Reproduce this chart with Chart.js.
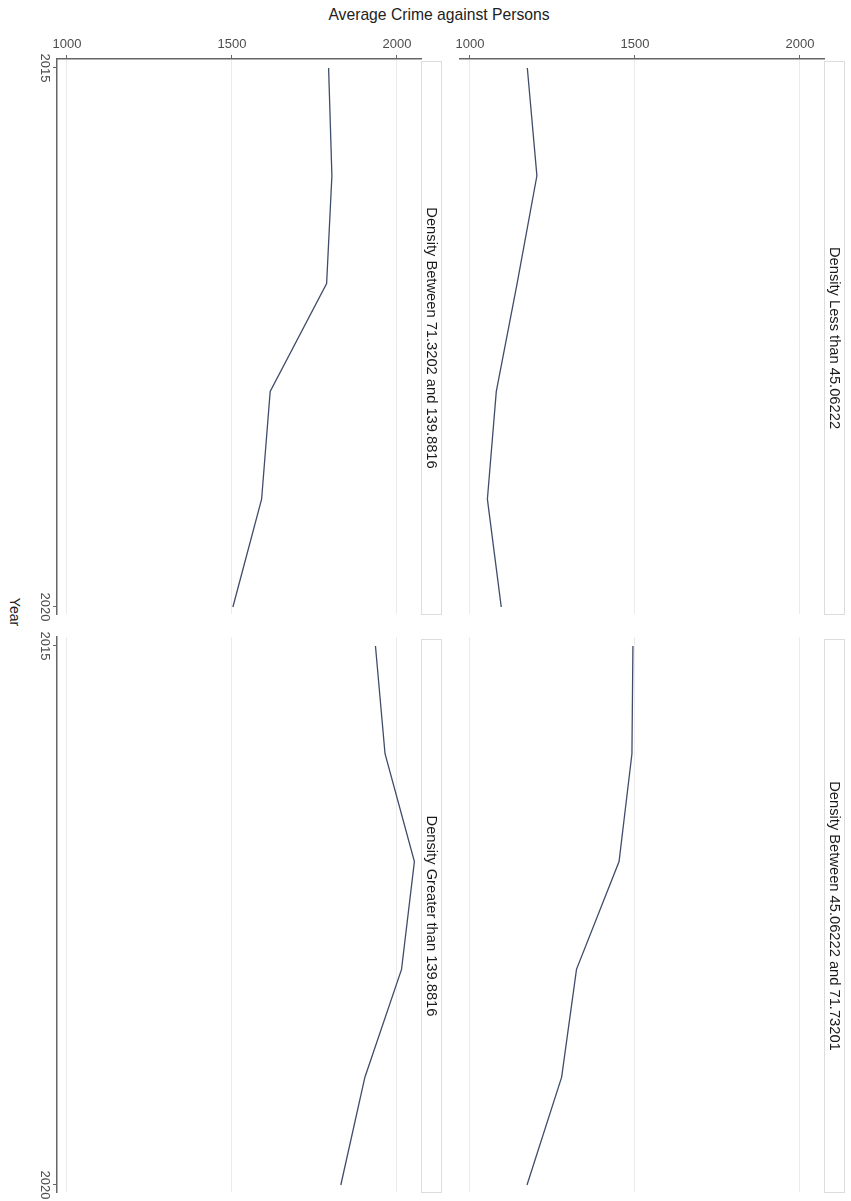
<!DOCTYPE html>
<html><head><meta charset="utf-8">
<script src="https://cdn.jsdelivr.net/npm/chart.js@4.4.1/dist/chart.umd.min.js"></script>
<style>
html,body{margin:0;padding:0;background:#fff;}
#wrap{position:relative;width:851px;height:1201px;overflow:hidden;background:#fff;}
#wrap canvas{position:absolute;left:0;top:0;}
#title{position:absolute;left:439px;top:15px;transform:translate(-50%,-50%);white-space:nowrap;font:15.7px "Liberation Sans",Arial,sans-serif;color:#222;}
#ylab{position:absolute;left:15px;top:612px;transform:translate(-50%,-50%) rotate(90deg);white-space:nowrap;font:14px "Liberation Sans",Arial,sans-serif;color:#222;}
</style></head><body>
<div id="wrap">
<div id="title">Average Crime against Persons</div>
<div id="ylab">Year</div>
<canvas id="c0" width="851" height="1201"></canvas>
<canvas id="c1" width="851" height="1201"></canvas>
<canvas id="c2" width="851" height="1201"></canvas>
<canvas id="c3" width="851" height="1201"></canvas>
</div>
<script>
// ---- data ----
const years = [2015, 2016, 2017, 2018, 2019, 2020];
const yearTicks = [2015, 2020];
const valueTicks = [1000, 1500, 2000];
const panelLabels = [
  "Density Between 71.3202 and 139.8816",
  "Density Less than 45.06222",
  "Density Greater than 139.8816",
  "Density Between 45.06222 and 71.73201"
];
const crimeBetween71and139 = [1793, 1803, 1787, 1616, 1590, 1503];
const crimeLessThan45      = [1174, 1203, 1143, 1080, 1053, 1095];
const crimeGreaterThan139  = [1935, 1964, 2053, 2014, 1903, 1830];
const crimeBetween45and71  = [1494, 1491, 1452, 1323, 1278, 1173];

// ---- layout / style ----
const FONT = '"Liberation Sans", Arial, sans-serif';
const axisColor = '#666666';
const gridColor = '#ebebeb';
const textColor = '#4d4d4d';
const lineColor = '#3f4d6b';
const valueMin = 970, valueMax = 2073;
const yearMin = 2014.917, yearMax = 2020.065;

const panels = [
  {id:'c0', series: crimeBetween71and139, label: panelLabels[0], left:true,  top:true,
   pad:{left:0, top:0, right:430, bottom:587}},
  {id:'c1', series: crimeLessThan45,      label: panelLabels[1], left:false, top:true,
   pad:{left:460, top:0, right:27, bottom:587}},
  {id:'c2', series: crimeGreaterThan139,  label: panelLabels[2], left:true,  top:false,
   pad:{left:0, top:637, right:430, bottom:9}},
  {id:'c3', series: crimeBetween45and71,  label: panelLabels[3], left:false, top:false,
   pad:{left:460, top:637, right:27, bottom:9}}
];

const facetPlugin = {
  id: 'facet',
  afterDraw(chart, args, opts) {
    const ctx = chart.ctx, a = chart.chartArea;
    ctx.save();
    // strip
    const sx = a.right + 0.5, sw = 20, sy = a.top + 2.5, sh = a.bottom - a.top - 2;
    ctx.fillStyle = '#ffffff';
    ctx.fillRect(sx, sy, sw, sh);
    ctx.strokeStyle = '#dcdcdc';
    ctx.lineWidth = 1;
    ctx.strokeRect(sx, sy, sw, sh);
    ctx.fillStyle = '#1a1a1a';
    ctx.font = '14.7px ' + FONT;
    ctx.textAlign = 'center';
    ctx.textBaseline = 'middle';
    ctx.translate(sx + sw / 2, sy + sh / 2);
    ctx.rotate(Math.PI / 2);
    ctx.fillText(opts.label, 0, 0);
    ctx.restore();
    // rotated year tick labels
    if (opts.left) {
      const s = chart.scales.y;
      ctx.save();
      ctx.fillStyle = textColor;
      ctx.font = '13px ' + FONT;
      ctx.textAlign = 'center';
      ctx.textBaseline = 'middle';
      s.ticks.forEach(t => {
        const y = s.getPixelForValue(t.value);
        ctx.save();
        ctx.translate(s.right - 12, y);
        ctx.rotate(Math.PI / 2);
        ctx.fillText(String(t.value), 0, 0);
        ctx.restore();
      });
      ctx.restore();
    }
  }
};

panels.forEach(p => {
  new Chart(document.getElementById(p.id), {
    type: 'line',
    data: {
      labels: years,
      datasets: [{
        data: years.map((yr, i) => ({x: p.series[i], y: yr})),
        borderColor: lineColor,
        borderWidth: 1.3,
        pointRadius: 0,
        tension: 0,
        fill: false
      }]
    },
    options: {
      responsive: false,
      animation: false,
      devicePixelRatio: 1,
      indexAxis: 'y',
      layout: {padding: p.pad},
      plugins: {
        legend: {display: false},
        tooltip: {enabled: false},
        facet: {label: p.label, left: p.left}
      },
      scales: {
        x: {
          type: 'linear',
          position: 'top',
          min: valueMin, max: valueMax,
          afterBuildTicks: s => { s.ticks = valueTicks.map(v => ({value: v})); },
          afterFit: s => { s.height = p.top ? 59 : 0; },
          ticks: {display: p.top, color: textColor, font: {family: FONT, size: 13}, padding: 3,
                  callback: v => String(v)},
          grid: {display: true, color: gridColor, lineWidth: 1, drawTicks: p.top, tickLength: 4, tickColor: axisColor},
          border: {display: p.top, color: axisColor, width: 1.5}
        },
        y: {
          type: 'linear',
          position: 'left',
          reverse: true,
          min: yearMin, max: yearMax,
          display: p.left,
          afterBuildTicks: s => { s.ticks = yearTicks.map(v => ({value: v})); },
          afterFit: s => { s.width = p.left ? 57 : 0; },
          ticks: {display: false},
          grid: {drawOnChartArea: false, drawTicks: true, tickLength: 4, tickColor: axisColor},
          border: {display: true, color: axisColor, width: 1.5}
        }
      }
    },
    plugins: [facetPlugin]
  });
});
</script>
</body></html>
